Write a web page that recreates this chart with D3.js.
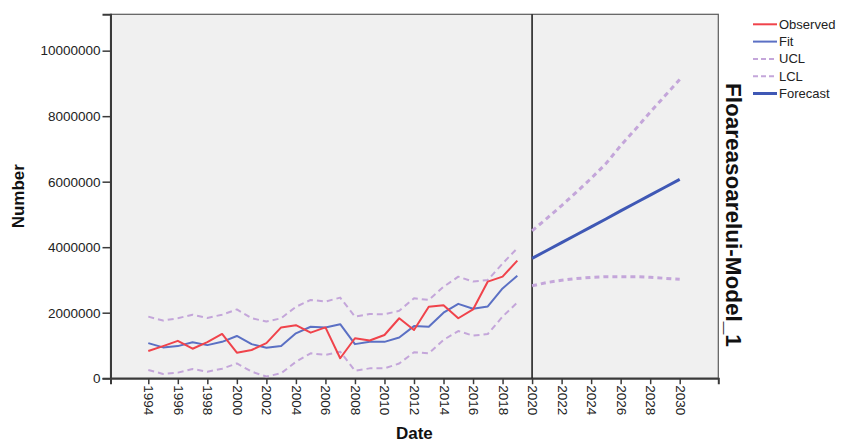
<!DOCTYPE html>
<html>
<head>
<meta charset="utf-8">
<script src="https://cdn.jsdelivr.net/npm/d3@7"></script>
<style>
  html, body { margin: 0; padding: 0; background: #ffffff; }
  svg { display: block; font-family: "Liberation Sans", Arial, sans-serif; }
</style>
</head>
<body>
<svg id="chart" width="844" height="444"></svg>
<script>
// ---- data ----
const histYears = [1994,1995,1996,1997,1998,1999,2000,2001,2002,2003,2004,2005,2006,2007,2008,2009,2010,2011,2012,2013,2014,2015,2016,2017,2018,2019];
const observed  = [830000,980000,1140000,900000,1100000,1350000,780000,860000,1070000,1550000,1620000,1390000,1550000,610000,1220000,1150000,1320000,1830000,1470000,2180000,2230000,1830000,2100000,2950000,3100000,3590000];
const fit       = [1070000,940000,980000,1100000,1010000,1110000,1290000,1040000,930000,980000,1370000,1570000,1550000,1650000,1040000,1110000,1110000,1240000,1590000,1570000,2000000,2270000,2120000,2190000,2740000,3130000];
const uclHist   = [1880000,1760000,1830000,1940000,1840000,1940000,2100000,1830000,1730000,1830000,2180000,2390000,2340000,2460000,1880000,1960000,1950000,2060000,2440000,2390000,2790000,3100000,2950000,3000000,3500000,3970000];
const lclHist   = [250000,130000,170000,280000,200000,290000,450000,200000,50000,150000,500000,760000,710000,810000,230000,300000,300000,450000,790000,760000,1170000,1440000,1300000,1350000,1880000,2310000];
const fcYears   = [2020,2021,2022,2023,2024,2025,2026,2027,2028,2029,2030];
const forecast  = [3660000,3900000,4140000,4380000,4620000,4860000,5110000,5350000,5590000,5830000,6070000];
const uclFc     = [4500000,4880000,5270000,5680000,6100000,6550000,7100000,7600000,8120000,8620000,9120000];
const lclFc     = [2820000,2920000,2990000,3040000,3080000,3100000,3100000,3100000,3080000,3050000,3020000];
const xTicks    = [1994,1996,1998,2000,2002,2004,2006,2008,2010,2012,2014,2016,2018,2020,2022,2024,2026,2028,2030];
const yTicks    = [0,2000000,4000000,6000000,8000000,10000000];
const forecastStart = 2020;
const legendItems = ["Observed","Fit","UCL","LCL","Forecast"];

// ---- layout ----
const svg = d3.select("#chart");
const plot = {left: 110.5, right: 718.3, top: 14.3, bottom: 378.2};
const x = d3.scaleLinear().domain([1991.44, 2032.615]).range([plot.left, plot.right]);
const y = d3.scaleLinear().domain([0, 11110000]).range([plot.bottom, plot.top]);

const C = {
  observed: "#f0434b",
  fit: "#5b70c4",
  band: "#c4a6da",
  forecast: "#3f58b5",
  axis: "#3a3a3a"
};

// plot background
svg.append("rect")
  .attr("x", plot.left).attr("y", plot.top)
  .attr("width", plot.right - plot.left).attr("height", plot.bottom - plot.top)
  .attr("fill", "#f0f0f0").attr("stroke", "#5a5a5a").attr("stroke-width", 1.2);

// axes
const yAxis = d3.axisLeft(y).tickValues(yTicks).tickFormat(d3.format("d")).tickSize(8).tickPadding(2);
const gy = svg.append("g").attr("transform", `translate(${plot.left},0)`).call(yAxis);
gy.select(".domain").attr("stroke", C.axis).attr("stroke-width", 2);
gy.selectAll(".tick line").attr("stroke", C.axis).attr("stroke-width", 1.5);
gy.selectAll(".tick text").attr("font-size", "13.5px").attr("fill", "#222");

const xAxis = d3.axisBottom(x).tickValues(xTicks).tickFormat(d3.format("d")).tickSize(6).tickPadding(0);
const gx = svg.append("g").attr("transform", `translate(0,${plot.bottom})`).call(xAxis);
gx.select(".domain").attr("stroke", C.axis).attr("stroke-width", 2);
gx.selectAll(".tick line").attr("stroke", C.axis).attr("stroke-width", 1.5);
gx.selectAll(".tick text")
  .attr("font-size", "13.5px").attr("fill", "#222")
  .attr("dy", null)
  .attr("y", 0).attr("x", 0)
  .attr("text-anchor", "start")
  .attr("dominant-baseline", "central")
  .attr("transform", "translate(0,7) rotate(90)");

// forecast start line
svg.append("line")
  .attr("x1", x(forecastStart)).attr("x2", x(forecastStart))
  .attr("y1", plot.top).attr("y2", plot.bottom)
  .attr("stroke", "#222").attr("stroke-width", 1.6);

// lines
const line = d3.line().x(d => x(d[0])).y(d => y(d[1]));
function draw(xs, vs, color, width, dash) {
  svg.append("path")
    .datum(xs.map((v, i) => [v, vs[i]]))
    .attr("d", line)
    .attr("fill", "none")
    .attr("stroke", color)
    .attr("stroke-width", width)
    .attr("stroke-dasharray", dash || null)
    .attr("stroke-linejoin", "round");
}
draw(histYears, uclHist, C.band, 2, "6,4");
draw(histYears, lclHist, C.band, 2, "6,4");
draw(fcYears, uclFc, C.band, 3, "5,4");
draw(fcYears, lclFc, C.band, 3, "5,4");
draw(histYears, fit, C.fit, 2);
draw(histYears, observed, C.observed, 2);
draw(fcYears, forecast, C.forecast, 3);

// axis titles
svg.append("text")
  .attr("transform", `translate(24,${(plot.top + plot.bottom) / 2}) rotate(-90)`)
  .attr("text-anchor", "middle")
  .attr("font-size", "17px").attr("font-weight", "bold").attr("fill", "#111")
  .text("Number");
svg.append("text")
  .attr("x", (plot.left + plot.right) / 2).attr("y", 439)
  .attr("text-anchor", "middle")
  .attr("font-size", "17px").attr("font-weight", "bold").attr("fill", "#111")
  .text("Date");

// right title
svg.append("text")
  .attr("transform", `translate(726,83) rotate(90)`)
  .attr("text-anchor", "start")
  .attr("font-size", "22.5px").attr("font-weight", "bold").attr("fill", "#111")
  .text("Floareasoarelui-Model_1");

// legend
const legendStyles = [
  {color: C.observed, w: 2, dash: null},
  {color: C.fit, w: 2, dash: null},
  {color: C.band, w: 2, dash: "5,3"},
  {color: C.band, w: 2, dash: "5,3"},
  {color: C.forecast, w: 3, dash: null}
];
const lg = svg.append("g");
legendItems.forEach((name, i) => {
  const yy = 24.3 + i * 17.3;
  const st = legendStyles[i];
  lg.append("line")
    .attr("x1", 753).attr("x2", 777).attr("y1", yy).attr("y2", yy)
    .attr("stroke", st.color).attr("stroke-width", st.w)
    .attr("stroke-dasharray", st.dash);
  lg.append("text")
    .attr("x", 779).attr("y", yy).attr("dy", "0.35em")
    .attr("font-size", "13px").attr("fill", "#222")
    .text(name);
});
</script>
</body>
</html>
